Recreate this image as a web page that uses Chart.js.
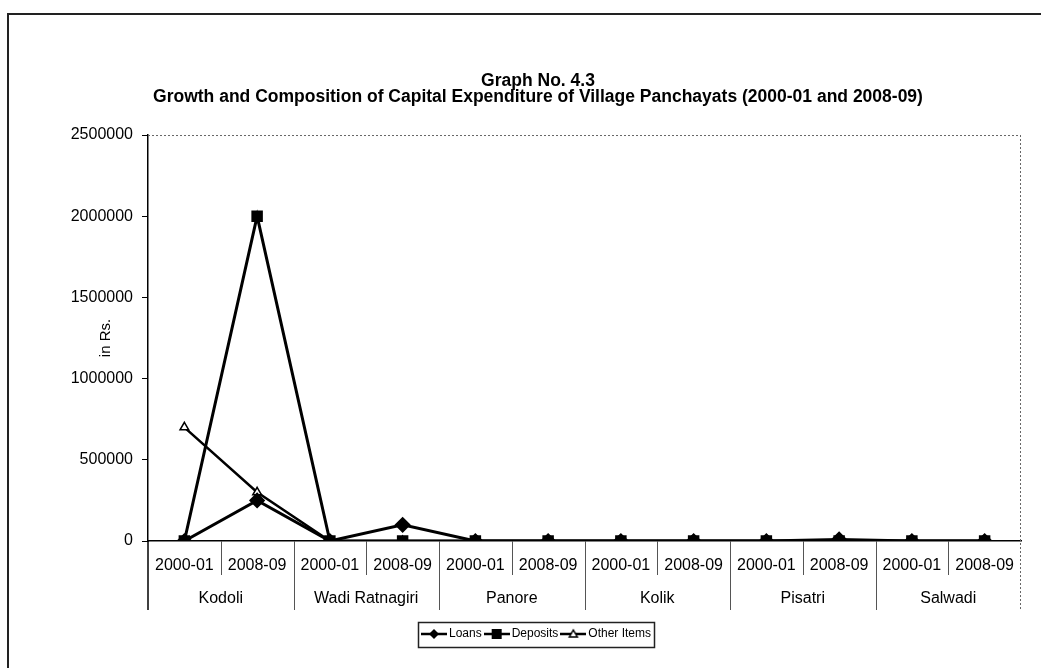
<!DOCTYPE html>
<html>
<head>
<meta charset="utf-8">
<script src="https://cdn.jsdelivr.net/npm/chart.js@4.4.0/dist/chart.umd.min.js"></script>
<style>
  html, body { margin: 0; padding: 0; background: #fff; overflow: hidden; }
  #frame { position: absolute; left: 7px; top: 13px; width: 1100px; height: 700px; border: 2px solid #222; }
  #wrap { position: absolute; left: 0; top: 0; width: 1041px; height: 668px; }
</style>
</head>
<body>
<div id="frame"></div>
<div id="wrap"><canvas id="myChart" width="1041" height="668"></canvas></div>
<script>
// data
const villages = ['Kodoli', 'Wadi Ratnagiri', 'Panore', 'Kolik', 'Pisatri', 'Salwadi'];
const years = ['2000-01', '2008-09'];
const loans = [0, 250000, 0, 100000, 0, 0, 0, 0, 0, 10000, 0, 0];
const deposits = [0, 2000000, 0, 0, 0, 0, 0, 0, 0, 0, 0, 0];
const otherItems = [700000, 300000, 0, 0, 0, 0, 0, 0, 0, 0, 0, 0];
const yTicks = [0, 500000, 1000000, 1500000, 2000000, 2500000];

const FONT = 'Liberation Sans, Arial, sans-serif';

function myLoadFunction() {
    const ctx = document.getElementById('myChart').getContext('2d');

    var labels = [];
    villages.forEach(function (v) { years.forEach(function (y) { labels.push(y); }); });

    // little legend pictures: line with the marker in the middle
    function legendIcon(kind) {
        var c = document.createElement('canvas');
        c.width = 26; c.height = 14;
        var g = c.getContext('2d');
        g.strokeStyle = '#000'; g.lineWidth = 2.5;
        g.beginPath(); g.moveTo(0, 7); g.lineTo(26, 7); g.stroke();
        g.fillStyle = '#000';
        if (kind == 'diamond') {
            g.beginPath(); g.moveTo(13, 2); g.lineTo(18, 7); g.lineTo(13, 12); g.lineTo(8, 7); g.closePath(); g.fill();
        } else if (kind == 'square') {
            g.fillRect(8, 2, 10, 10);
        } else {
            g.fillStyle = '#fff'; g.lineWidth = 1.5;
            g.beginPath(); g.moveTo(13, 3); g.lineTo(17, 10); g.lineTo(9, 10); g.closePath(); g.fill(); g.stroke();
        }
        return c;
    }
    var icons = [legendIcon('diamond'), legendIcon('square'), legendIcon('triangle')];

    var decorations = {
        id: 'decorations',
        afterDraw: function (chart) {
            var x = chart.scales.x, y = chart.scales.y;
            var rowsBottom = x.bottom + 35;
            var g = chart.ctx;
            g.save();
            // plot area top and right border, dotted
            g.strokeStyle = '#666'; g.lineWidth = 1; g.setLineDash([2, 2]);
            g.beginPath();
            g.moveTo(y.right, y.top + 0.5); g.lineTo(x.right, y.top + 0.5);
            g.moveTo(x.right - 0.5, y.top); g.lineTo(x.right - 0.5, rowsBottom);
            g.stroke();
            // category separators below the axis
            g.strokeStyle = '#555'; g.setLineDash([]);
            for (var i = 1; i < labels.length; i++) {
                var px = Math.round(x.getPixelForValue(i - 0.5)) + 0.5;
                var bottom = (i % 2 == 0) ? rowsBottom : x.bottom;
                g.beginPath(); g.moveTo(px, x.top); g.lineTo(px, bottom); g.stroke();
            }
            // y axis line continues down through the label rows
            g.strokeStyle = '#000'; g.lineWidth = 1.5;
            g.beginPath(); g.moveTo(x.left, x.top); g.lineTo(x.left, rowsBottom); g.stroke();
            // legend border
            var boxes = chart.legend.legendHitBoxes;
            if (boxes && boxes.length) {
                var last = boxes[boxes.length - 1];
                var l = boxes[0].left - 7, r = last.left + last.width + 3;
                var t = boxes[0].top - 6, b = boxes[0].top + boxes[0].height + 7;
                g.strokeStyle = '#222'; g.lineWidth = 1.5;
                g.strokeRect(Math.round(l) + 0.5, Math.round(t) + 0.5, Math.round(r - l), Math.round(b - t));
            }
            g.restore();
        }
    };

    var myChartConfig = {
        type: 'line',
        data: {
            labels: labels,
            datasets: [{
                label: 'Loans',
                data: loans,
                borderColor: '#000',
                backgroundColor: '#000',
                borderWidth: 3,
                pointStyle: 'rectRot',
                pointRadius: 6,
                pointBackgroundColor: '#000',
                pointBorderColor: '#000',
                tension: 0
            }, {
                label: 'Deposits',
                data: deposits,
                borderColor: '#000',
                backgroundColor: '#000',
                borderWidth: 3,
                pointStyle: 'rect',
                pointRadius: 6,
                pointBackgroundColor: '#000',
                pointBorderColor: '#000',
                tension: 0
            }, {
                label: 'Other Items',
                data: otherItems,
                borderColor: '#000',
                backgroundColor: '#fff',
                borderWidth: 2.5,
                pointStyle: 'triangle',
                pointRadius: 5,
                pointBackgroundColor: '#fff',
                pointBorderColor: '#000',
                pointBorderWidth: 1.5,
                tension: 0
            }]
        },
        options: {
            responsive: false,
            animation: false,
            layout: { padding: { left: 55, right: 20, top: 0, bottom: 18 } },
            plugins: {
                title: {
                    display: true,
                    text: ['Graph No. 4.3', 'Growth and Composition of Capital Expenditure of Village Panchayats (2000-01 and 2008-09)'],
                    color: '#000',
                    font: { family: FONT, size: 17.5, weight: 'bold', lineHeight: 0.915 },
                    padding: { top: 73, bottom: 30 }
                },
                legend: {
                    position: 'bottom',
                    labels: {
                        color: '#000',
                        font: { family: FONT, size: 12 },
                        usePointStyle: true,
                        pointStyleWidth: 18,
                        padding: 6,
                        generateLabels: function (chart) {
                            return chart.data.datasets.map(function (ds, i) {
                                return { text: ds.label, pointStyle: icons[i], datasetIndex: i, lineWidth: 0, strokeStyle: 'transparent', fillStyle: 'transparent', fontColor: '#000' };
                            });
                        }
                    }
                },
                tooltip: { enabled: false }
            },
            scales: {
                x: {
                    type: 'category',
                    labels: labels,
                    offset: true,
                    grid: { display: false, drawTicks: false },
                    border: { display: true, color: '#000', width: 1.5 },
                    ticks: { color: '#000', font: { family: FONT, size: 16 }, padding: 15, maxRotation: 0, autoSkip: false },
                    afterFit: function (s) { s.height = 34; }
                },
                x2: {
                    type: 'category',
                    position: 'bottom',
                    labels: villages,
                    offset: true,
                    grid: { display: false, drawTicks: false },
                    border: { display: false },
                    ticks: { color: '#000', font: { family: FONT, size: 16 }, padding: 14, maxRotation: 0, autoSkip: false },
                    afterFit: function (s) { s.height = 47; }
                },
                y: {
                    min: 0,
                    max: 2500000,
                    afterBuildTicks: function (s) { s.ticks = yTicks.map(function (v) { return { value: v }; }); },
                    grid: { drawOnChartArea: false, tickLength: 6, color: '#000' },
                    border: { display: true, color: '#000', width: 1.5 },
                    title: { display: true, text: 'in Rs.', color: '#000', font: { family: FONT, size: 15 }, padding: { top: 42, bottom: 0 } },
                    ticks: {
                        color: '#000', font: { family: FONT, size: 16 }, padding: 9,
                        callback: function (v) { return String(v); }
                    },
                    afterFit: function (s) { s.width = 93; }
                }
            }
        },
        plugins: [decorations]
    };

    const myChart = new Chart(ctx, myChartConfig);
}

document.addEventListener('DOMContentLoaded', myLoadFunction);
</script>
</body>
</html>
